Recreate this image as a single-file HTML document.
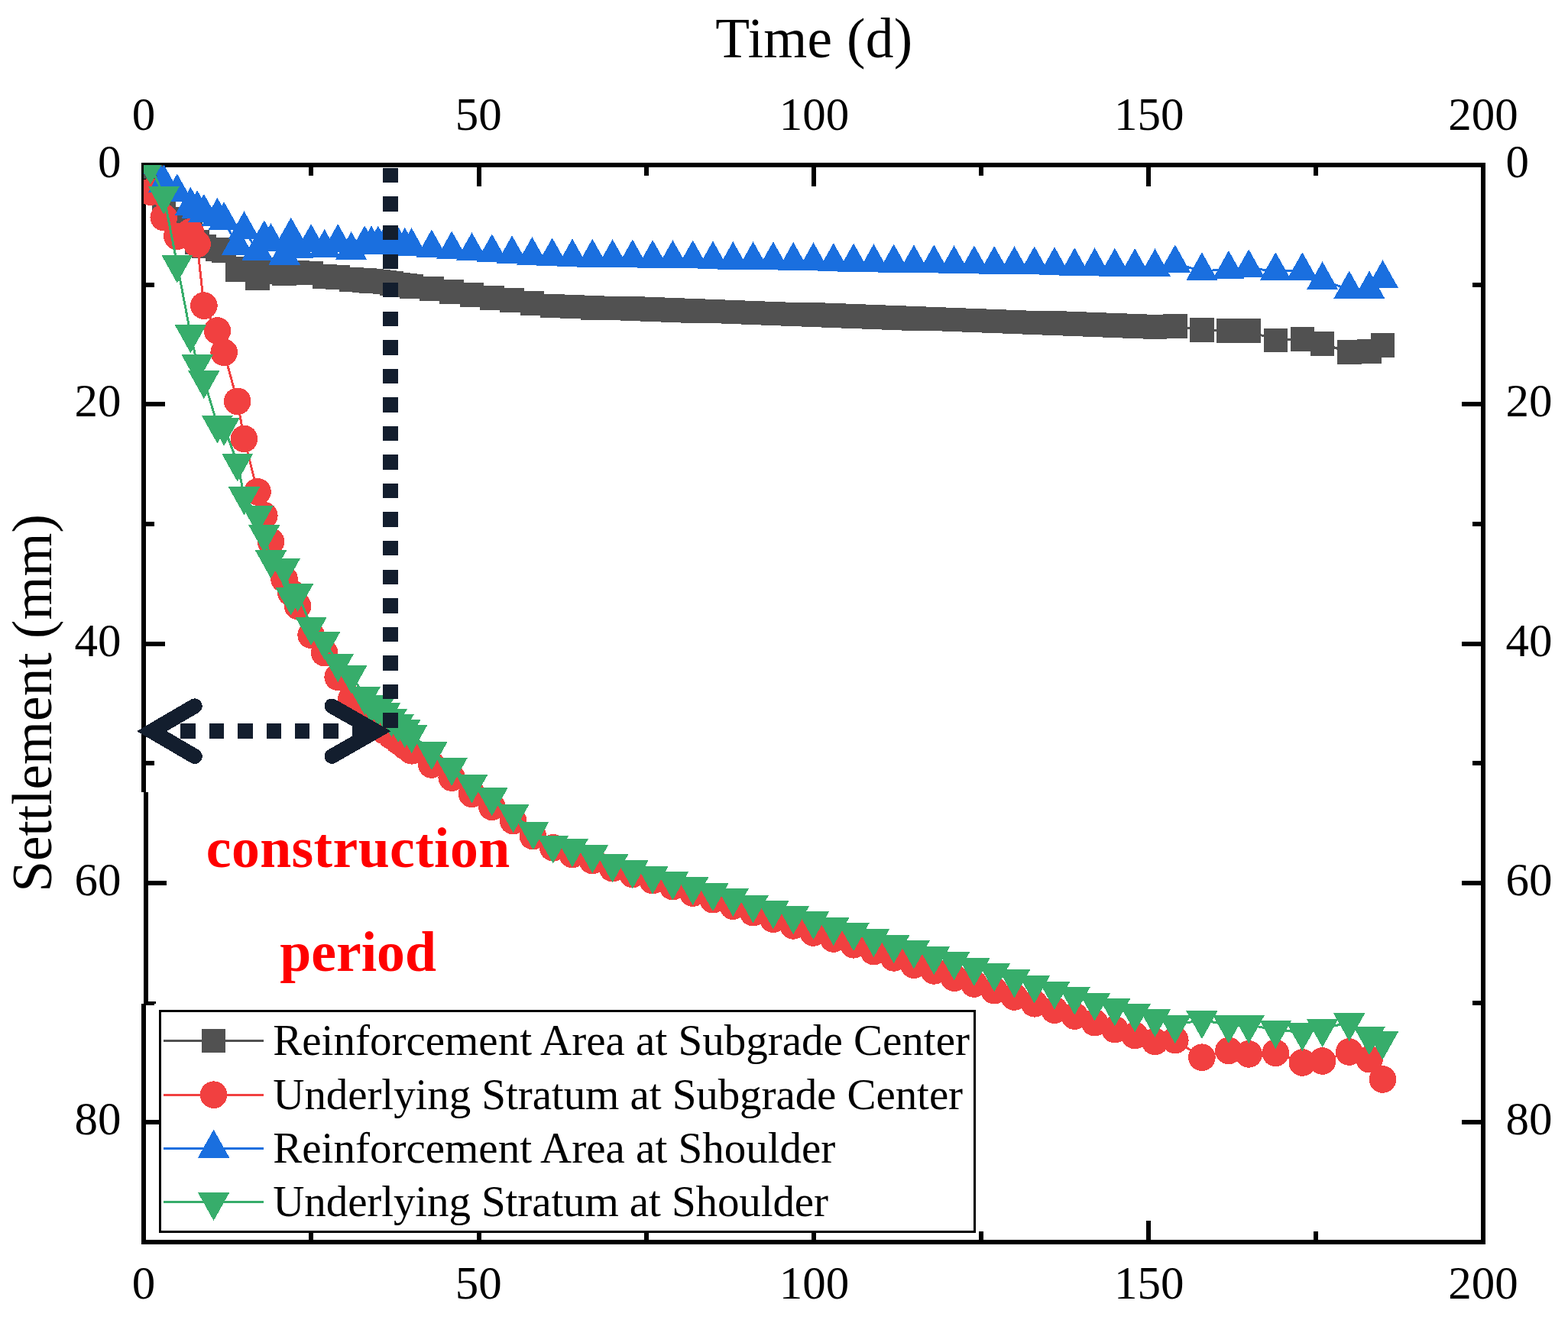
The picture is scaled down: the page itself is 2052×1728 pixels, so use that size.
<!DOCTYPE html>
<html lang="en"><head><meta charset="utf-8"><title>Settlement vs Time</title>
<style>html,body{margin:0;padding:0;background:#fff}body{width:2052px;height:1728px;overflow:hidden}svg{display:block}text{font-family:"Liberation Serif","Times New Roman",serif;fill:#000}</style></head><body>
<svg width="2052" height="1728" viewBox="0 0 2052 1728">
<rect width="2052" height="1728" fill="#fff"/>
<defs><clipPath id="plot"><rect x="188" y="216" width="1753" height="1410"/></clipPath></defs>
<g fill="#000" shape-rendering="crispEdges">
<path fill-rule="evenodd" d="M185 213H1944V1629H185Z M191 219V1623H1938V219Z"/>
<rect x="404" y="216" width="6" height="14"/><rect x="404" y="1612" width="6" height="14"/>
<rect x="624" y="216" width="6" height="28"/><rect x="624" y="1598" width="6" height="28"/>
<rect x="843" y="216" width="6" height="14"/><rect x="843" y="1612" width="6" height="14"/>
<rect x="1062" y="216" width="6" height="28"/><rect x="1062" y="1598" width="6" height="28"/>
<rect x="1281" y="216" width="6" height="14"/><rect x="1281" y="1612" width="6" height="14"/>
<rect x="1500" y="216" width="6" height="28"/><rect x="1500" y="1598" width="6" height="28"/>
<rect x="1719" y="216" width="6" height="14"/><rect x="1719" y="1612" width="6" height="14"/>
<rect x="188" y="370" width="14" height="6"/><rect x="1927" y="370" width="14" height="6"/>
<rect x="188" y="526" width="28" height="6"/><rect x="1913" y="526" width="28" height="6"/>
<rect x="188" y="683" width="14" height="6"/><rect x="1927" y="683" width="14" height="6"/>
<rect x="188" y="840" width="28" height="6"/><rect x="1913" y="840" width="28" height="6"/>
<rect x="188" y="996" width="14" height="6"/><rect x="1927" y="996" width="14" height="6"/>
<rect x="188" y="1153" width="28" height="6"/><rect x="1913" y="1153" width="28" height="6"/>
<rect x="188" y="1310" width="14" height="6"/><rect x="1927" y="1310" width="14" height="6"/>
<rect x="188" y="1466" width="28" height="6"/><rect x="1913" y="1466" width="28" height="6"/>
</g>
<g shape-rendering="crispEdges">
<rect x="184" y="1037" width="36" height="277" fill="#fff"/>
<rect x="188" y="1037" width="6" height="277" fill="#000"/>
<rect x="188" y="1153" width="30" height="6" fill="#000"/>
<rect x="188" y="1311" width="16" height="3" fill="#000"/>
</g>
<g clip-path="url(#plot)" shape-rendering="crispEdges">
<g fill="#515151" stroke="none">
<polyline fill="none" stroke="#515151" stroke-width="3.0" points="196.8,218.3 214.3,272 231.8,287 249.4,307 258.1,317.2 266.9,322.3 284.4,326.6 293.2,328 310.7,352.8 319.5,352 337,363.8 345.8,356 354.5,353 372.1,357.9 380.8,357 389.6,357 407.1,357.6 424.7,362 442.2,363.1 459.7,366 477.2,367 486,367.8 494.8,368.6 503.5,369.6 512.3,371 521.1,372.4 529.8,373.6 538.6,375 564.9,378.2 591.2,382.1 617.5,386 643.8,389.9 670.1,393.2 696.4,397.1 722.7,400.3 749,401.5 775.3,402.7 801.6,403.6 827.8,404 854.1,404.9 880.4,405.8 906.7,406.7 933,407.6 959.3,408.5 985.6,409.4 1011.9,410.3 1038.2,411.3 1064.5,412.2 1090.8,413.1 1117.1,414 1143.4,414.9 1169.7,415.8 1196,416.7 1222.3,417.6 1248.6,418.5 1274.9,419.5 1301.2,420.4 1327.5,421.3 1353.7,422.3 1380,423.2 1406.3,424.2 1432.6,425.1 1458.9,426 1485.2,427 1511.5,427.9 1537.8,426.9 1572.9,432 1607.9,433 1634.2,433 1669.3,445.5 1704.3,443.7 1730.6,449.9 1765.7,461.1 1792,459.7 1809.5,451.8"/>
<rect x="181" y="202.5" width="31.6" height="31.6"/>
<rect x="198.5" y="256.2" width="31.6" height="31.6"/>
<rect x="216" y="271.2" width="31.6" height="31.6"/>
<rect x="233.6" y="291.2" width="31.6" height="31.6"/>
<rect x="242.3" y="301.4" width="31.6" height="31.6"/>
<rect x="251.1" y="306.5" width="31.6" height="31.6"/>
<rect x="268.6" y="310.8" width="31.6" height="31.6"/>
<rect x="277.4" y="312.2" width="31.6" height="31.6"/>
<rect x="294.9" y="337" width="31.6" height="31.6"/>
<rect x="303.7" y="336.2" width="31.6" height="31.6"/>
<rect x="321.2" y="348" width="31.6" height="31.6"/>
<rect x="330" y="340.2" width="31.6" height="31.6"/>
<rect x="338.7" y="337.2" width="31.6" height="31.6"/>
<rect x="356.3" y="342.1" width="31.6" height="31.6"/>
<rect x="365" y="341.2" width="31.6" height="31.6"/>
<rect x="373.8" y="341.2" width="31.6" height="31.6"/>
<rect x="391.3" y="341.8" width="31.6" height="31.6"/>
<rect x="408.9" y="346.2" width="31.6" height="31.6"/>
<rect x="426.4" y="347.3" width="31.6" height="31.6"/>
<rect x="443.9" y="350.2" width="31.6" height="31.6"/>
<rect x="461.4" y="351.2" width="31.6" height="31.6"/>
<rect x="470.2" y="352" width="31.6" height="31.6"/>
<rect x="479" y="352.8" width="31.6" height="31.6"/>
<rect x="487.7" y="353.8" width="31.6" height="31.6"/>
<rect x="496.5" y="355.2" width="31.6" height="31.6"/>
<rect x="505.3" y="356.6" width="31.6" height="31.6"/>
<rect x="514" y="357.8" width="31.6" height="31.6"/>
<rect x="522.8" y="359.2" width="31.6" height="31.6"/>
<rect x="549.1" y="362.4" width="31.6" height="31.6"/>
<rect x="575.4" y="366.3" width="31.6" height="31.6"/>
<rect x="601.7" y="370.2" width="31.6" height="31.6"/>
<rect x="628" y="374.1" width="31.6" height="31.6"/>
<rect x="654.3" y="377.4" width="31.6" height="31.6"/>
<rect x="680.6" y="381.3" width="31.6" height="31.6"/>
<rect x="706.9" y="384.5" width="31.6" height="31.6"/>
<rect x="733.2" y="385.7" width="31.6" height="31.6"/>
<rect x="759.5" y="386.9" width="31.6" height="31.6"/>
<rect x="785.8" y="387.8" width="31.6" height="31.6"/>
<rect x="812" y="388.2" width="31.6" height="31.6"/>
<rect x="838.3" y="389.1" width="31.6" height="31.6"/>
<rect x="864.6" y="390" width="31.6" height="31.6"/>
<rect x="890.9" y="390.9" width="31.6" height="31.6"/>
<rect x="917.2" y="391.8" width="31.6" height="31.6"/>
<rect x="943.5" y="392.7" width="31.6" height="31.6"/>
<rect x="969.8" y="393.6" width="31.6" height="31.6"/>
<rect x="996.1" y="394.5" width="31.6" height="31.6"/>
<rect x="1022.4" y="395.5" width="31.6" height="31.6"/>
<rect x="1048.7" y="396.4" width="31.6" height="31.6"/>
<rect x="1075" y="397.3" width="31.6" height="31.6"/>
<rect x="1101.3" y="398.2" width="31.6" height="31.6"/>
<rect x="1127.6" y="399.1" width="31.6" height="31.6"/>
<rect x="1153.9" y="400" width="31.6" height="31.6"/>
<rect x="1180.2" y="400.9" width="31.6" height="31.6"/>
<rect x="1206.5" y="401.8" width="31.6" height="31.6"/>
<rect x="1232.8" y="402.7" width="31.6" height="31.6"/>
<rect x="1259.1" y="403.7" width="31.6" height="31.6"/>
<rect x="1285.4" y="404.6" width="31.6" height="31.6"/>
<rect x="1311.7" y="405.5" width="31.6" height="31.6"/>
<rect x="1337.9" y="406.5" width="31.6" height="31.6"/>
<rect x="1364.2" y="407.4" width="31.6" height="31.6"/>
<rect x="1390.5" y="408.4" width="31.6" height="31.6"/>
<rect x="1416.8" y="409.3" width="31.6" height="31.6"/>
<rect x="1443.1" y="410.2" width="31.6" height="31.6"/>
<rect x="1469.4" y="411.2" width="31.6" height="31.6"/>
<rect x="1495.7" y="412.1" width="31.6" height="31.6"/>
<rect x="1522" y="411.1" width="31.6" height="31.6"/>
<rect x="1557.1" y="416.2" width="31.6" height="31.6"/>
<rect x="1592.1" y="417.2" width="31.6" height="31.6"/>
<rect x="1618.4" y="417.2" width="31.6" height="31.6"/>
<rect x="1653.5" y="429.7" width="31.6" height="31.6"/>
<rect x="1688.5" y="427.9" width="31.6" height="31.6"/>
<rect x="1714.8" y="434.1" width="31.6" height="31.6"/>
<rect x="1749.9" y="445.3" width="31.6" height="31.6"/>
<rect x="1776.2" y="443.9" width="31.6" height="31.6"/>
<rect x="1793.7" y="436" width="31.6" height="31.6"/>
</g>
<g fill="#F14040" stroke="none">
<polyline fill="none" stroke="#F14040" stroke-width="3.0" points="196.8,251.2 214.3,284.6 231.8,309.4 249.4,303.6 258.1,319.5 266.9,400.1 284.4,433 293.2,461.4 310.7,525.3 319.5,574.5 337,643.7 345.8,674.9 354.5,709 372.1,758.2 380.8,775.8 389.6,793.3 407.1,831.3 424.7,854.7 442.2,886.4 459.7,915 477.2,935 486,943.6 494.8,950.2 503.5,956.8 512.3,963.4 521.1,970 529.8,976.6 538.6,982.8 564.9,1001 591.2,1018.1 617.5,1039.3 643.8,1056.3 671.6,1074.6 697.4,1094.6 723.9,1109.9 749,1118.5 775.3,1126.5 801.6,1136.7 827.8,1144.5 854.1,1152.6 880.4,1160.6 906.7,1169.1 933,1177.7 959.3,1186.2 985.6,1194.7 1011.9,1203.3 1038.2,1211.9 1064.5,1221 1090.8,1229 1117.1,1236.8 1143.4,1245.6 1169.7,1253.9 1196,1263.1 1222.3,1270.9 1248.6,1280.2 1274.9,1288 1301.2,1296.7 1327.5,1305 1353.7,1313.8 1380,1322.1 1406.3,1330.1 1432.6,1338.7 1458.9,1347.6 1485.2,1355.5 1511.5,1363.5 1537.8,1361.6 1572.9,1384.2 1607.9,1375.4 1634.2,1379.9 1669.3,1378.3 1704.3,1391 1730.6,1389 1765.7,1377 1792,1386.7 1809.5,1413"/>
<circle cx="196.8" cy="251.2" r="17.8"/>
<circle cx="214.3" cy="284.6" r="17.8"/>
<circle cx="231.8" cy="309.4" r="17.8"/>
<circle cx="249.4" cy="303.6" r="17.8"/>
<circle cx="258.1" cy="319.5" r="17.8"/>
<circle cx="266.9" cy="400.1" r="17.8"/>
<circle cx="284.4" cy="433" r="17.8"/>
<circle cx="293.2" cy="461.4" r="17.8"/>
<circle cx="310.7" cy="525.3" r="17.8"/>
<circle cx="319.5" cy="574.5" r="17.8"/>
<circle cx="337" cy="643.7" r="17.8"/>
<circle cx="345.8" cy="674.9" r="17.8"/>
<circle cx="354.5" cy="709" r="17.8"/>
<circle cx="372.1" cy="758.2" r="17.8"/>
<circle cx="380.8" cy="775.8" r="17.8"/>
<circle cx="389.6" cy="793.3" r="17.8"/>
<circle cx="407.1" cy="831.3" r="17.8"/>
<circle cx="424.7" cy="854.7" r="17.8"/>
<circle cx="442.2" cy="886.4" r="17.8"/>
<circle cx="459.7" cy="915" r="17.8"/>
<circle cx="477.2" cy="935" r="17.8"/>
<circle cx="486" cy="943.6" r="17.8"/>
<circle cx="494.8" cy="950.2" r="17.8"/>
<circle cx="503.5" cy="956.8" r="17.8"/>
<circle cx="512.3" cy="963.4" r="17.8"/>
<circle cx="521.1" cy="970" r="17.8"/>
<circle cx="529.8" cy="976.6" r="17.8"/>
<circle cx="538.6" cy="982.8" r="17.8"/>
<circle cx="564.9" cy="1001" r="17.8"/>
<circle cx="591.2" cy="1018.1" r="17.8"/>
<circle cx="617.5" cy="1039.3" r="17.8"/>
<circle cx="643.8" cy="1056.3" r="17.8"/>
<circle cx="671.6" cy="1074.6" r="17.8"/>
<circle cx="697.4" cy="1094.6" r="17.8"/>
<circle cx="723.9" cy="1109.9" r="17.8"/>
<circle cx="749" cy="1118.5" r="17.8"/>
<circle cx="775.3" cy="1126.5" r="17.8"/>
<circle cx="801.6" cy="1136.7" r="17.8"/>
<circle cx="827.8" cy="1144.5" r="17.8"/>
<circle cx="854.1" cy="1152.6" r="17.8"/>
<circle cx="880.4" cy="1160.6" r="17.8"/>
<circle cx="906.7" cy="1169.1" r="17.8"/>
<circle cx="933" cy="1177.7" r="17.8"/>
<circle cx="959.3" cy="1186.2" r="17.8"/>
<circle cx="985.6" cy="1194.7" r="17.8"/>
<circle cx="1011.9" cy="1203.3" r="17.8"/>
<circle cx="1038.2" cy="1211.9" r="17.8"/>
<circle cx="1064.5" cy="1221" r="17.8"/>
<circle cx="1090.8" cy="1229" r="17.8"/>
<circle cx="1117.1" cy="1236.8" r="17.8"/>
<circle cx="1143.4" cy="1245.6" r="17.8"/>
<circle cx="1169.7" cy="1253.9" r="17.8"/>
<circle cx="1196" cy="1263.1" r="17.8"/>
<circle cx="1222.3" cy="1270.9" r="17.8"/>
<circle cx="1248.6" cy="1280.2" r="17.8"/>
<circle cx="1274.9" cy="1288" r="17.8"/>
<circle cx="1301.2" cy="1296.7" r="17.8"/>
<circle cx="1327.5" cy="1305" r="17.8"/>
<circle cx="1353.7" cy="1313.8" r="17.8"/>
<circle cx="1380" cy="1322.1" r="17.8"/>
<circle cx="1406.3" cy="1330.1" r="17.8"/>
<circle cx="1432.6" cy="1338.7" r="17.8"/>
<circle cx="1458.9" cy="1347.6" r="17.8"/>
<circle cx="1485.2" cy="1355.5" r="17.8"/>
<circle cx="1511.5" cy="1363.5" r="17.8"/>
<circle cx="1537.8" cy="1361.6" r="17.8"/>
<circle cx="1572.9" cy="1384.2" r="17.8"/>
<circle cx="1607.9" cy="1375.4" r="17.8"/>
<circle cx="1634.2" cy="1379.9" r="17.8"/>
<circle cx="1669.3" cy="1378.3" r="17.8"/>
<circle cx="1704.3" cy="1391" r="17.8"/>
<circle cx="1730.6" cy="1389" r="17.8"/>
<circle cx="1765.7" cy="1377" r="17.8"/>
<circle cx="1792" cy="1386.7" r="17.8"/>
<circle cx="1809.5" cy="1413" r="17.8"/>
</g>
<g fill="#1A6FDF" stroke="none">
<polyline fill="none" stroke="#1A6FDF" stroke-width="3.0" points="196.8,216 214.3,240 231.8,252 249.4,269.5 258.1,273.7 266.9,278.7 284.4,283.5 293.2,288.9 310.7,321.3 319.5,301 337,328.7 345.8,313 354.5,316.8 372.1,334.5 380.8,309.2 389.6,325.8 407.1,317.8 424.7,324.7 442.2,317.8 459.7,327.8 477.2,320 486,320.1 494.8,320.3 503.5,320.5 512.3,320.9 521.1,321.5 529.8,322.4 538.6,323 564.9,325.1 591.2,327.1 617.5,328.9 643.8,331 670.1,333 696.4,334.7 722.7,336 749,337.1 775.3,337.4 801.6,337.8 827.8,338.1 854.1,338.7 880.4,338.9 906.7,339.1 933,340.1 959.3,340.7 985.6,340.9 1011.9,341 1038.2,341.6 1064.5,342 1090.8,342.8 1117.1,343.2 1143.4,344 1169.7,344.2 1196,345 1222.3,345 1248.6,345.9 1274.9,346.1 1301.2,346.7 1327.5,346.9 1353.7,347.1 1380,347.9 1406.3,349 1432.6,349 1458.9,349.4 1485.2,349.8 1511.5,350.1 1537.8,345 1572.9,354.9 1607.9,352.7 1634.2,351 1669.3,354.9 1704.3,354.9 1730.6,367 1765.7,379.1 1792,379.1 1809.5,365"/>
<path d="M196.8 191.3L217.5 228.3L176.1 228.3Z"/>
<path d="M214.3 215.3L235 252.3L193.6 252.3Z"/>
<path d="M231.8 227.3L252.5 264.3L211.1 264.3Z"/>
<path d="M249.4 244.8L270.1 281.8L228.7 281.8Z"/>
<path d="M258.1 249L278.8 286L237.4 286Z"/>
<path d="M266.9 254L287.6 291L246.2 291Z"/>
<path d="M284.4 258.8L305.1 295.8L263.7 295.8Z"/>
<path d="M293.2 264.2L313.9 301.2L272.5 301.2Z"/>
<path d="M310.7 296.6L331.4 333.6L290 333.6Z"/>
<path d="M319.5 276.3L340.2 313.3L298.8 313.3Z"/>
<path d="M337 304L357.7 341L316.3 341Z"/>
<path d="M345.8 288.3L366.5 325.3L325.1 325.3Z"/>
<path d="M354.5 292.1L375.2 329.1L333.8 329.1Z"/>
<path d="M372.1 309.8L392.8 346.8L351.4 346.8Z"/>
<path d="M380.8 284.5L401.5 321.5L360.1 321.5Z"/>
<path d="M389.6 301.1L410.3 338.1L368.9 338.1Z"/>
<path d="M407.1 293.1L427.8 330.1L386.4 330.1Z"/>
<path d="M424.7 300L445.4 337L404 337Z"/>
<path d="M442.2 293.1L462.9 330.1L421.5 330.1Z"/>
<path d="M459.7 303.1L480.4 340.1L439 340.1Z"/>
<path d="M477.2 295.3L497.9 332.3L456.5 332.3Z"/>
<path d="M486 295.4L506.7 332.4L465.3 332.4Z"/>
<path d="M494.8 295.6L515.5 332.6L474.1 332.6Z"/>
<path d="M503.5 295.8L524.2 332.8L482.8 332.8Z"/>
<path d="M512.3 296.2L533 333.2L491.6 333.2Z"/>
<path d="M521.1 296.8L541.8 333.8L500.4 333.8Z"/>
<path d="M529.8 297.7L550.5 334.7L509.1 334.7Z"/>
<path d="M538.6 298.3L559.3 335.3L517.9 335.3Z"/>
<path d="M564.9 300.4L585.6 337.4L544.2 337.4Z"/>
<path d="M591.2 302.4L611.9 339.4L570.5 339.4Z"/>
<path d="M617.5 304.2L638.2 341.2L596.8 341.2Z"/>
<path d="M643.8 306.3L664.5 343.3L623.1 343.3Z"/>
<path d="M670.1 308.3L690.8 345.3L649.4 345.3Z"/>
<path d="M696.4 310L717.1 347L675.7 347Z"/>
<path d="M722.7 311.3L743.4 348.3L702 348.3Z"/>
<path d="M749 312.4L769.7 349.4L728.3 349.4Z"/>
<path d="M775.3 312.7L796 349.7L754.6 349.7Z"/>
<path d="M801.6 313.1L822.3 350.1L780.9 350.1Z"/>
<path d="M827.8 313.4L848.5 350.4L807.1 350.4Z"/>
<path d="M854.1 314L874.8 351L833.4 351Z"/>
<path d="M880.4 314.2L901.1 351.2L859.7 351.2Z"/>
<path d="M906.7 314.4L927.4 351.4L886 351.4Z"/>
<path d="M933 315.4L953.7 352.4L912.3 352.4Z"/>
<path d="M959.3 316L980 353L938.6 353Z"/>
<path d="M985.6 316.2L1006.3 353.2L964.9 353.2Z"/>
<path d="M1011.9 316.3L1032.6 353.3L991.2 353.3Z"/>
<path d="M1038.2 316.9L1058.9 353.9L1017.5 353.9Z"/>
<path d="M1064.5 317.3L1085.2 354.3L1043.8 354.3Z"/>
<path d="M1090.8 318.1L1111.5 355.1L1070.1 355.1Z"/>
<path d="M1117.1 318.5L1137.8 355.5L1096.4 355.5Z"/>
<path d="M1143.4 319.3L1164.1 356.3L1122.7 356.3Z"/>
<path d="M1169.7 319.5L1190.4 356.5L1149 356.5Z"/>
<path d="M1196 320.3L1216.7 357.3L1175.3 357.3Z"/>
<path d="M1222.3 320.3L1243 357.3L1201.6 357.3Z"/>
<path d="M1248.6 321.2L1269.3 358.2L1227.9 358.2Z"/>
<path d="M1274.9 321.4L1295.6 358.4L1254.2 358.4Z"/>
<path d="M1301.2 322L1321.9 359L1280.5 359Z"/>
<path d="M1327.5 322.2L1348.2 359.2L1306.8 359.2Z"/>
<path d="M1353.7 322.4L1374.4 359.4L1333 359.4Z"/>
<path d="M1380 323.2L1400.7 360.2L1359.3 360.2Z"/>
<path d="M1406.3 324.3L1427 361.3L1385.6 361.3Z"/>
<path d="M1432.6 324.3L1453.3 361.3L1411.9 361.3Z"/>
<path d="M1458.9 324.7L1479.6 361.7L1438.2 361.7Z"/>
<path d="M1485.2 325.1L1505.9 362.1L1464.5 362.1Z"/>
<path d="M1511.5 325.4L1532.2 362.4L1490.8 362.4Z"/>
<path d="M1537.8 320.3L1558.5 357.3L1517.1 357.3Z"/>
<path d="M1572.9 330.2L1593.6 367.2L1552.2 367.2Z"/>
<path d="M1607.9 328L1628.6 365L1587.2 365Z"/>
<path d="M1634.2 326.3L1654.9 363.3L1613.5 363.3Z"/>
<path d="M1669.3 330.2L1690 367.2L1648.6 367.2Z"/>
<path d="M1704.3 330.2L1725 367.2L1683.6 367.2Z"/>
<path d="M1730.6 342.3L1751.3 379.3L1709.9 379.3Z"/>
<path d="M1765.7 354.4L1786.4 391.4L1745 391.4Z"/>
<path d="M1792 354.4L1812.7 391.4L1771.3 391.4Z"/>
<path d="M1809.5 340.3L1830.2 377.3L1788.8 377.3Z"/>
</g>
<g fill="#37AD6B" stroke="none">
<polyline fill="none" stroke="#37AD6B" stroke-width="3.0" points="196.8,216.8 214.3,256 231.8,345.9 249.4,437.6 258.1,476.6 266.9,497.5 284.4,555.9 293.2,559.1 310.7,605.9 319.5,649.7 337,674.5 345.8,699.4 354.5,732.6 372.1,743.6 380.8,780.8 389.6,776.4 407.1,820.2 424.7,839.3 442.2,868.4 459.7,883.6 477.2,911.5 486,922.1 494.8,926.3 503.5,932.3 512.3,940.2 521.1,947.4 529.8,954.4 538.6,961.5 564.9,983.5 591.2,1004.2 617.5,1026.6 643.8,1043.7 671.7,1065.6 697.8,1088 723.7,1105.8 749,1110.7 775.3,1118.7 801.6,1130.7 827.8,1138.7 854.1,1146 880.4,1153.6 906.7,1160.6 933,1168.4 959.3,1175.3 985.6,1183.8 1011.9,1191.6 1038.2,1198.7 1064.5,1205.4 1090.8,1213.4 1117.1,1220.5 1143.4,1228.5 1169.7,1236.6 1196,1243.7 1222.3,1251.7 1248.6,1258.5 1274.9,1266.3 1301.2,1273.6 1327.5,1281.7 1353.7,1289 1380,1296.8 1406.3,1304.1 1432.6,1311.9 1458.9,1318.9 1485.2,1326.5 1511.5,1333.3 1537.8,1341.5 1572.9,1335.5 1607.9,1341.5 1634.2,1341.5 1669.3,1348.3 1704.3,1351.3 1730.6,1346.4 1765.7,1338.6 1792,1356.5 1809.5,1362.6"/>
<path d="M196.8 241.5L217.5 204.5L176.1 204.5Z"/>
<path d="M214.3 280.7L235 243.7L193.6 243.7Z"/>
<path d="M231.8 370.6L252.5 333.6L211.1 333.6Z"/>
<path d="M249.4 462.3L270.1 425.3L228.7 425.3Z"/>
<path d="M258.1 501.3L278.8 464.3L237.4 464.3Z"/>
<path d="M266.9 522.2L287.6 485.2L246.2 485.2Z"/>
<path d="M284.4 580.6L305.1 543.6L263.7 543.6Z"/>
<path d="M293.2 583.8L313.9 546.8L272.5 546.8Z"/>
<path d="M310.7 630.6L331.4 593.6L290 593.6Z"/>
<path d="M319.5 674.4L340.2 637.4L298.8 637.4Z"/>
<path d="M337 699.2L357.7 662.2L316.3 662.2Z"/>
<path d="M345.8 724.1L366.5 687.1L325.1 687.1Z"/>
<path d="M354.5 757.3L375.2 720.3L333.8 720.3Z"/>
<path d="M372.1 768.3L392.8 731.3L351.4 731.3Z"/>
<path d="M380.8 805.5L401.5 768.5L360.1 768.5Z"/>
<path d="M389.6 801.1L410.3 764.1L368.9 764.1Z"/>
<path d="M407.1 844.9L427.8 807.9L386.4 807.9Z"/>
<path d="M424.7 864L445.4 827L404 827Z"/>
<path d="M442.2 893.1L462.9 856.1L421.5 856.1Z"/>
<path d="M459.7 908.3L480.4 871.3L439 871.3Z"/>
<path d="M477.2 936.2L497.9 899.2L456.5 899.2Z"/>
<path d="M486 946.8L506.7 909.8L465.3 909.8Z"/>
<path d="M494.8 951L515.5 914L474.1 914Z"/>
<path d="M503.5 957L524.2 920L482.8 920Z"/>
<path d="M512.3 964.9L533 927.9L491.6 927.9Z"/>
<path d="M521.1 972.1L541.8 935.1L500.4 935.1Z"/>
<path d="M529.8 979.1L550.5 942.1L509.1 942.1Z"/>
<path d="M538.6 986.2L559.3 949.2L517.9 949.2Z"/>
<path d="M564.9 1008.2L585.6 971.2L544.2 971.2Z"/>
<path d="M591.2 1028.9L611.9 991.9L570.5 991.9Z"/>
<path d="M617.5 1051.3L638.2 1014.3L596.8 1014.3Z"/>
<path d="M643.8 1068.4L664.5 1031.4L623.1 1031.4Z"/>
<path d="M671.7 1090.3L692.4 1053.3L651 1053.3Z"/>
<path d="M697.8 1112.7L718.5 1075.7L677.1 1075.7Z"/>
<path d="M723.7 1130.5L744.4 1093.5L703 1093.5Z"/>
<path d="M749 1135.4L769.7 1098.4L728.3 1098.4Z"/>
<path d="M775.3 1143.4L796 1106.4L754.6 1106.4Z"/>
<path d="M801.6 1155.4L822.3 1118.4L780.9 1118.4Z"/>
<path d="M827.8 1163.4L848.5 1126.4L807.1 1126.4Z"/>
<path d="M854.1 1170.7L874.8 1133.7L833.4 1133.7Z"/>
<path d="M880.4 1178.3L901.1 1141.3L859.7 1141.3Z"/>
<path d="M906.7 1185.3L927.4 1148.3L886 1148.3Z"/>
<path d="M933 1193.1L953.7 1156.1L912.3 1156.1Z"/>
<path d="M959.3 1200L980 1163L938.6 1163Z"/>
<path d="M985.6 1208.5L1006.3 1171.5L964.9 1171.5Z"/>
<path d="M1011.9 1216.3L1032.6 1179.3L991.2 1179.3Z"/>
<path d="M1038.2 1223.4L1058.9 1186.4L1017.5 1186.4Z"/>
<path d="M1064.5 1230.1L1085.2 1193.1L1043.8 1193.1Z"/>
<path d="M1090.8 1238.1L1111.5 1201.1L1070.1 1201.1Z"/>
<path d="M1117.1 1245.2L1137.8 1208.2L1096.4 1208.2Z"/>
<path d="M1143.4 1253.2L1164.1 1216.2L1122.7 1216.2Z"/>
<path d="M1169.7 1261.3L1190.4 1224.3L1149 1224.3Z"/>
<path d="M1196 1268.4L1216.7 1231.4L1175.3 1231.4Z"/>
<path d="M1222.3 1276.4L1243 1239.4L1201.6 1239.4Z"/>
<path d="M1248.6 1283.2L1269.3 1246.2L1227.9 1246.2Z"/>
<path d="M1274.9 1291L1295.6 1254L1254.2 1254Z"/>
<path d="M1301.2 1298.3L1321.9 1261.3L1280.5 1261.3Z"/>
<path d="M1327.5 1306.4L1348.2 1269.4L1306.8 1269.4Z"/>
<path d="M1353.7 1313.7L1374.4 1276.7L1333 1276.7Z"/>
<path d="M1380 1321.5L1400.7 1284.5L1359.3 1284.5Z"/>
<path d="M1406.3 1328.8L1427 1291.8L1385.6 1291.8Z"/>
<path d="M1432.6 1336.6L1453.3 1299.6L1411.9 1299.6Z"/>
<path d="M1458.9 1343.6L1479.6 1306.6L1438.2 1306.6Z"/>
<path d="M1485.2 1351.2L1505.9 1314.2L1464.5 1314.2Z"/>
<path d="M1511.5 1358L1532.2 1321L1490.8 1321Z"/>
<path d="M1537.8 1366.2L1558.5 1329.2L1517.1 1329.2Z"/>
<path d="M1572.9 1360.2L1593.6 1323.2L1552.2 1323.2Z"/>
<path d="M1607.9 1366.2L1628.6 1329.2L1587.2 1329.2Z"/>
<path d="M1634.2 1366.2L1654.9 1329.2L1613.5 1329.2Z"/>
<path d="M1669.3 1373L1690 1336L1648.6 1336Z"/>
<path d="M1704.3 1376L1725 1339L1683.6 1339Z"/>
<path d="M1730.6 1371.1L1751.3 1334.1L1709.9 1334.1Z"/>
<path d="M1765.7 1363.3L1786.4 1326.3L1745 1326.3Z"/>
<path d="M1792 1381.2L1812.7 1344.2L1771.3 1344.2Z"/>
<path d="M1809.5 1387.3L1830.2 1350.3L1788.8 1350.3Z"/>
</g>
</g>
<g stroke="#131E2E" fill="none" shape-rendering="crispEdges">
<line x1="511" y1="952.7" x2="511" y2="219" stroke-width="19.8" stroke-dasharray="19.4 18.15"/>
<line x1="236.3" y1="956.9" x2="480" y2="956.9" stroke-width="19.7" stroke-dasharray="19.5 17.9"/>
<polyline points="254.8,924.3 198.6,957.2 254.8,990.1" stroke-width="19.8" stroke-linecap="round" stroke-linejoin="miter" stroke-miterlimit="10"/>
<polyline points="434.3,924.3 491.9,957.2 434.3,990.1" stroke-width="19.5" stroke-linecap="round" stroke-linejoin="miter" stroke-miterlimit="10"/>
</g>
<g font-size="61" text-anchor="middle">
<text x="188" y="170.2">0</text>
<text x="188" y="1700.3">0</text>
<text x="626.2" y="170.2">50</text>
<text x="626.2" y="1700.3">50</text>
<text x="1065.5" y="170.2">100</text>
<text x="1065.5" y="1700.3">100</text>
<text x="1503.8" y="170.2">150</text>
<text x="1503.8" y="1700.3">150</text>
<text x="1941" y="170.2">200</text>
<text x="1941" y="1700.3">200</text>
</g>
<g font-size="61" text-anchor="end">
<text x="158.6" y="232">0</text>
<text x="158.6" y="545.3">20</text>
<text x="158.6" y="858.7">40</text>
<text x="158.6" y="1172">60</text>
<text x="158.6" y="1485.3">80</text>
</g>
<g font-size="61" text-anchor="start">
<text x="1970.5" y="232">0</text>
<text x="1970.5" y="545.3">20</text>
<text x="1970.5" y="858.7">40</text>
<text x="1970.5" y="1172">60</text>
<text x="1970.5" y="1485.3">80</text>
</g>
<text x="1065.3" y="74.9" font-size="73.3" text-anchor="middle" letter-spacing="0.3">Time (d)</text>
<text transform="translate(67.3 920.5) rotate(-90)" font-size="73.3" text-anchor="middle">Settlement (mm)</text>
<g font-size="73.7" font-weight="bold" text-anchor="middle" style="fill:#FF0000"><text x="468.7" y="1135.2" letter-spacing="0.4" style="fill:#FF0000">construction</text><text x="468.6" y="1271.4" style="fill:#FF0000">period</text></g>
<rect x="209.5" y="1323.5" width="1066" height="289" fill="#fff" stroke="#000" stroke-width="3" shape-rendering="crispEdges"/>
<g fill="#515151" shape-rendering="crispEdges"><line x1="214.3" y1="1362.5" x2="344.8" y2="1362.5" stroke="#515151" stroke-width="3.0"/><rect x="263.8" y="1346.7" width="31.6" height="31.6"/></g>
<text x="357.3" y="1380.8" font-size="57">Reinforcement Area at Subgrade Center</text>
<g fill="#F14040" shape-rendering="crispEdges"><line x1="214.3" y1="1433.2" x2="344.8" y2="1433.2" stroke="#F14040" stroke-width="3.0"/><circle cx="279.6" cy="1433.2" r="17.8"/></g>
<text x="357.3" y="1451.6" font-size="57" textLength="902.8">Underlying Stratum at Subgrade Center</text>
<g fill="#1A6FDF" shape-rendering="crispEdges"><line x1="214.3" y1="1503.4" x2="344.8" y2="1503.4" stroke="#1A6FDF" stroke-width="3.0"/><path d="M279.6 1478.7L300.3 1515.7L258.9 1515.7Z"/></g>
<text x="357.3" y="1522" font-size="57">Reinforcement Area at Shoulder</text>
<g fill="#37AD6B" shape-rendering="crispEdges"><line x1="214.3" y1="1573.4" x2="344.8" y2="1573.4" stroke="#37AD6B" stroke-width="3.0"/><path d="M279.6 1598.1L300.3 1561.1L258.9 1561.1Z"/></g>
<text x="357.3" y="1592.1" font-size="57" textLength="726.7">Underlying Stratum at Shoulder</text>
</svg></body></html>
